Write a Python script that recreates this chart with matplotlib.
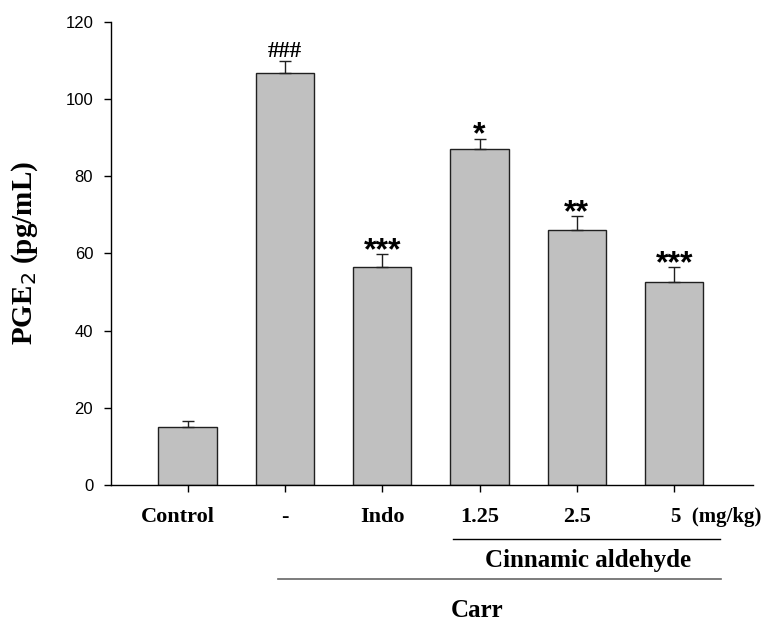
import matplotlib
matplotlib.use("Agg")
import matplotlib.pyplot as plt
import matplotlib.transforms as mtransforms

# PGE2 levels per treatment group (mean and upper SEM)
groups = ["Control", "-", "Indo", "1.25", "2.5", "5"]
pge2 = [15.1, 106.9, 56.5, 87.2, 66.1, 52.5]
sem = [1.5, 2.9, 3.3, 2.6, 3.5, 4.0]
marks = ["", "###", "***", "*", "**", "***"]

SERIF = "Liberation Serif"
SANS = "Liberation Sans"

fig = plt.figure(figsize=(7.67, 6.21), dpi=100)
ax = fig.add_axes([0.1441, 0.2190, 0.8373, 0.7456])

xs = list(range(len(groups)))
ax.bar(xs, pge2, width=0.6, color="#c0c0c0", edgecolor="#202020",
       linewidth=1.0, zorder=2)
ax.errorbar(xs, pge2, yerr=[[0] * len(sem), sem], fmt="none",
            ecolor="#202020", elinewidth=1.0, capsize=4.6, capthick=1.0,
            zorder=3)

# significance marks above the error bars
for x, v, e, m in zip(xs, pge2, sem, marks):
    if not m:
        continue
    if m.startswith("#"):
        ax.annotate(m, (x, v + e), xytext=(0, 3), textcoords="offset points",
                    ha="center", va="baseline", fontsize=16.5,
                    fontfamily=SERIF, fontweight="heavy")
    else:
        ax.annotate(m, (x, v + e), xytext=(0, -3.5),
                    textcoords="offset points", ha="center", va="baseline",
                    fontsize=23, fontfamily=SANS, fontweight="bold")

ax.set_xlim(-0.793, 5.807)
ax.set_ylim(0, 120)
ax.set_yticks(range(0, 121, 20))
ax.set_xticks(xs)
ax.set_xticklabels([])
ax.spines["top"].set_visible(False)
ax.spines["right"].set_visible(False)
for s in ("left", "bottom"):
    ax.spines[s].set_linewidth(1.0)
ax.tick_params(direction="out", length=5, width=1.0)
ax.tick_params(axis="y", pad=7.5)
for lab in ax.get_yticklabels():
    lab.set_fontfamily(SANS)
    lab.set_fontsize(12)

ax.set_ylabel("PGE$_2$ (pg/mL)", fontsize=21, fontfamily=SERIF,
              fontweight="bold", va="center")
ax.yaxis.set_label_coords(-0.133, 0.5)

# group labels and treatment brackets under the axis
trans = mtransforms.blended_transform_factory(ax.transData, ax.transAxes)
for x, g in zip(xs, groups):
    if g == "5":
        ax.text(x - 0.03, -0.0793, "5  (mg/kg)", transform=trans, ha="left",
                va="baseline", fontsize=15, fontfamily=SERIF,
                fontweight="bold")
    elif g == "Control":
        ax.text(x - 0.1, -0.0793, g, transform=trans, ha="center",
                va="baseline", fontsize=16, fontfamily=SERIF,
                fontweight="bold")
    else:
        ax.text(x, -0.0793, g, transform=trans, ha="center", va="baseline",
                fontsize=16, fontfamily=SERIF, fontweight="bold")

ax.plot([2.73, 5.47], [-0.1173, -0.1173], transform=trans, color="black",
        linewidth=1.0, clip_on=False)
ax.text(4.114, -0.1778, "Cinnamic aldehyde", transform=trans, ha="center",
        va="baseline", fontsize=18, fontfamily=SERIF, fontweight="bold")
ax.plot([0.931, 5.479], [-0.2037, -0.2037], transform=trans, color="#666666",
        linewidth=1.2, clip_on=False)
ax.text(2.978, -0.2844, "Carr", transform=trans, ha="center", va="baseline",
        fontsize=18, fontfamily=SERIF, fontweight="bold")

fig.savefig("out.png", dpi=100)
